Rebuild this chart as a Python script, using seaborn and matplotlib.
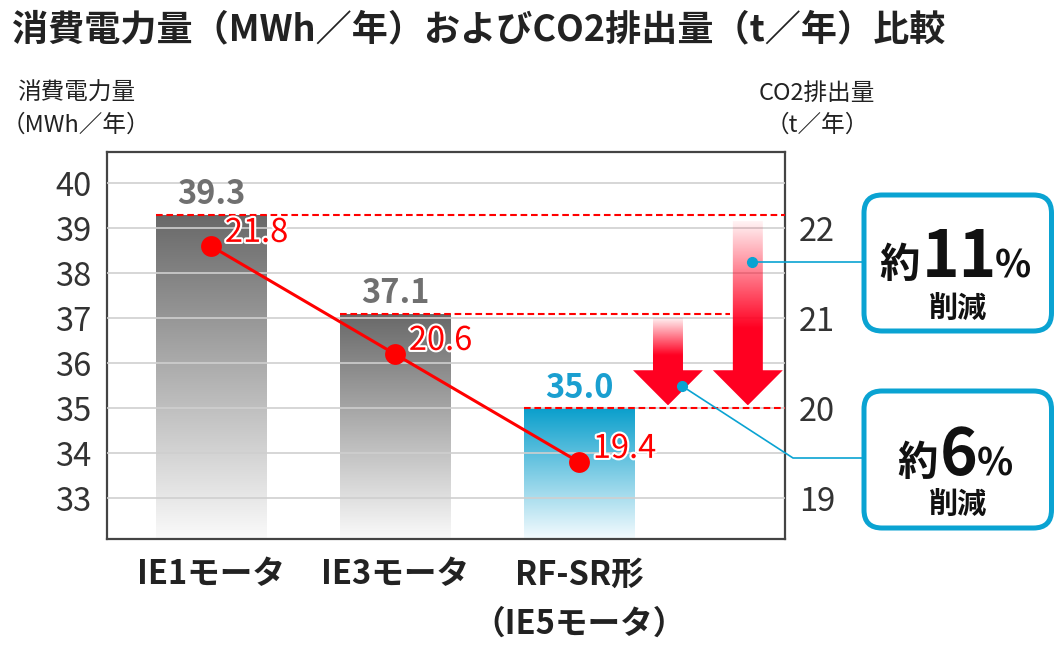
import numpy as np
import pandas as pd
import matplotlib
matplotlib.use("Agg")
import matplotlib.pyplot as plt
import seaborn as sns
from matplotlib.patches import Polygon, FancyBboxPatch
from matplotlib.colors import LinearSegmentedColormap
import matplotlib.patheffects as pe

# ---------------- data ----------------
categories = ["IE1モータ", "IE3モータ", "RF-SR形\n（IE5モータ）"]
power_mwh = [39.3, 37.1, 35.0]
co2_t = [21.8, 20.6, 19.4]
power_labels = ["39.3", "37.1", "35.0"]
co2_labels = ["21.8", "20.6", "19.4"]
left_ticks = [33, 34, 35, 36, 37, 38, 39, 40]
right_ticks = [19, 20, 21, 22]
reduction_pct = ["11", "6"]
title = "消費電力量（MWh／年）およびCO2排出量（t／年）比較"

# ---------------- style ----------------
sns.set_theme(style="white")
plt.rcParams['font.family'] = ['Noto Sans CJK JP', 'DejaVu Sans']

W, H = 1055, 645
fig = plt.figure(figsize=(W / 100, H / 100), dpi=100)
ax = fig.add_axes([107 / W, 1 - 539 / H, 678 / W, 387 / H])

df = pd.DataFrame({"model": categories, "power": power_mwh})
sns.barplot(data=df, x="model", y="power", ax=ax, width=0.6,
            color="#888888", saturation=1, zorder=1)

YL = (32.09, 40.69)
XL = (-0.565, 3.12)
ax.set_ylim(*YL)
ax.set_xlim(*XL)

# gradient fills for bars
gray_cmap = LinearSegmentedColormap.from_list("g", ["#fafafa", "#686868"])
blue_cmap = LinearSegmentedColormap.from_list("b", ["#f4fbfe", "#0a9fcc"])
grad = np.linspace(0, 1, 256).reshape(-1, 1)
bars = list(ax.patches)
for i, p in enumerate(bars):
    x0, w, top = p.get_x(), p.get_width(), p.get_height()
    p.set_facecolor('none')
    p.set_edgecolor('none')
    cm = blue_cmap if i == 2 else gray_cmap
    im = ax.imshow(grad, cmap=cm, extent=[x0, x0 + w, YL[0], top],
                   origin='lower', aspect='auto', zorder=1,
                   interpolation='bilinear')
    im.set_clip_path(p)

# dashed reference lines
ends = [XL[1], 2.82, XL[1]]
for i, p in enumerate(bars):
    ax.plot([p.get_x(), ends[i]], [power_mwh[i]] * 2, color='#ff0000',
            lw=1.5, ls=(0, (3.2, 1.8)), zorder=3, solid_capstyle='butt')


def draw_arrow(xc, ytop, ytip, head_len, shaft_hw=0.0815, head_hw=0.19):
    yh = ytip + head_len
    verts = [(xc - shaft_hw, ytop), (xc + shaft_hw, ytop), (xc + shaft_hw, yh),
             (xc + head_hw, yh), (xc, ytip), (xc - head_hw, yh),
             (xc - shaft_hw, yh)]
    poly = Polygon(verts, closed=True, facecolor='none', edgecolor='none')
    ax.add_patch(poly)
    n = 256
    ys = ytip + np.linspace(0, 1, n) * (ytop - ytip)
    frac = (ytop - ys) / (ytop - yh)
    alpha = np.clip(0.04 + frac / 0.75, 0, 1)
    rgba = np.zeros((n, 1, 4))
    rgba[..., 0] = 1.0
    rgba[..., 1] = 0.0
    rgba[..., 2] = 0.13
    rgba[..., 3] = alpha[:, None]
    im = ax.imshow(rgba, extent=[xc - head_hw, xc + head_hw, ytip, ytop],
                   origin='lower', aspect='auto', zorder=3,
                   interpolation='bilinear')
    im.set_clip_path(poly)


draw_arrow(2.484, power_mwh[1] - 0.09, power_mwh[2] + 0.06, 0.78)
draw_arrow(2.918, power_mwh[0] - 0.14, power_mwh[2] + 0.06, 0.78)

ax.set_ylim(*YL)
ax.set_xlim(*XL)

# bar value labels
bar_label_colors = ["#707070", "#707070", "#1a9fd0"]
for i, v in enumerate(power_mwh):
    ax.annotate(power_labels[i], (i, v), xytext=(0, 7.5),
                textcoords='offset points', ha='center', va='baseline',
                fontsize=23.5, fontweight='bold', color=bar_label_colors[i],
                zorder=6)

# grid, ticks, spines
ax.set_yticks(left_ticks)
ax.yaxis.grid(True, color='#cfcfcf', lw=1.2)
ax.xaxis.grid(False)
ax.set_axisbelow(False)
ax.tick_params(axis='y', length=0, pad=11, labelsize=23.5, labelcolor='#333333')
ax.tick_params(axis='x', length=0, pad=14, labelsize=23.5, labelcolor='#222222')
for lbl in ax.get_xticklabels():
    lbl.set_fontweight('bold')
    lbl.set_linespacing(1.62)
ax.set_xlabel('')
ax.set_ylabel('')
for s in ax.spines.values():
    s.set_color('#444444')
    s.set_linewidth(1.6)
    s.set_visible(True)

# right axis: CO2 line
ax2 = ax.twinx()
ax2.set_ylim(19 + (YL[0] - 33) / 2, 19 + (YL[1] - 33) / 2)
sns.lineplot(x=[0, 1, 2], y=co2_t, ax=ax2, color='#ff0000', lw=2.2,
             marker='o', markersize=15, markeredgewidth=0, zorder=5)
for i, v in enumerate(co2_t):
    ax2.annotate(co2_labels[i], (i, v), xytext=(10, 3),
                 textcoords='offset points', ha='left', va='baseline',
                 fontsize=23.5, color='#ff0000', zorder=7,
                 path_effects=[pe.withStroke(linewidth=3, foreground='white')])
ax2.set_yticks(right_ticks)
ax2.tick_params(axis='y', length=0, pad=10, labelsize=23.5, labelcolor='#333333')
ax2.set_ylabel('')
for s in ax2.spines.values():
    s.set_visible(False)
ax2.set_xlim(*XL)

# ---------------- overlay (pixel coords) ----------------
ov = fig.add_axes([0, 0, 1, 1])
ov.set_xlim(0, W)
ov.set_ylim(H, 0)
ov.axis('off')
ov.patch.set_alpha(0)

ov.text(12, 30, title, fontsize=26, fontweight='bold', ha='left', va='center',
        color='#222222')
ov.text(76, 93, "消費電力量", fontsize=17, ha='center', va='center', color='#222222')
ov.text(76, 125, "（MWh／年）", fontsize=17, ha='center', va='center', color='#222222')
ov.text(817, 93, "CO2排出量", fontsize=17, ha='center', va='center', color='#222222')
ov.text(817, 125, "（t／年）", fontsize=17, ha='center', va='center', color='#222222')

CY = '#0aa3d2'
for (y0, y1) in [(195, 331), (391, 528)]:
    ov.add_patch(FancyBboxPatch((864, y0), 187.5, y1 - y0,
                                boxstyle="round,pad=0,rounding_size=18",
                                lw=3.6, ec=CY, fc='white', zorder=2))

ov.plot([752, 864], [262, 262], color=CY, lw=1.2, zorder=1)
ov.plot([752], [262], 'o', color=CY, ms=7, zorder=3)
ov.plot([682, 793, 864], [386, 458, 458], color=CY, lw=1.2, zorder=1)
ov.plot([682], [386], 'o', color=CY, ms=7, zorder=3)

# callout texts
ov.text(920, 277, "約", fontsize=29, fontweight='bold', ha='right', va='baseline', color='#111111', zorder=4)
ov.text(959, 277, reduction_pct[0], fontsize=46, fontweight='bold', ha='center', va='baseline', color='#111111', zorder=4)
ov.text(995, 277, "%", fontsize=27, fontweight='bold', ha='left', va='baseline', color='#111111', zorder=4)
ov.text(958, 308, "削減", fontsize=21, fontweight='bold', ha='center', va='center', color='#111111', zorder=4)

ov.text(938, 475, "約", fontsize=29, fontweight='bold', ha='right', va='baseline', color='#111111', zorder=4)
ov.text(958.5, 475, reduction_pct[1], fontsize=46, fontweight='bold', ha='center', va='baseline', color='#111111', zorder=4)
ov.text(977, 475, "%", fontsize=27, fontweight='bold', ha='left', va='baseline', color='#111111', zorder=4)
ov.text(958, 504, "削減", fontsize=21, fontweight='bold', ha='center', va='center', color='#111111', zorder=4)

fig.savefig("out.png", dpi=100)
